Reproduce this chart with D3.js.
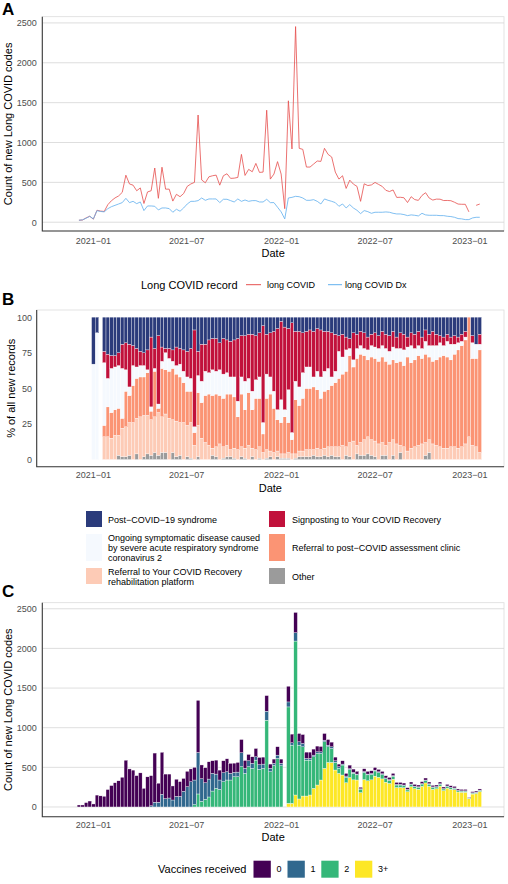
<!DOCTYPE html>
<html>
<head>
<meta charset="utf-8">
<script src="https://cdn.jsdelivr.net/npm/d3@7"></script>
<style>
  body { margin: 0; background: #fff; }
  svg { display: block; }
</style>
</head>
<body>
<svg id="fig" width="508" height="884"></svg>
<script>
'use strict';

// one value per week, starting with the week of firstWeek
var firstWeek = new Date(2020, 11, 5)

// panel A: weekly count of new codes (null = gap in the line)
var longCovid = [
  25, 28, 55, 75, 38, 150, 140, 135, 220, 270,
  305, 330, 375, 590, 480, 465, 395, 430, 235, 380,
  395, 680, 300, 690, 415, 415, 265, 350, 320, 360,
  450, 480, 500, 1345, 530, 495, 570, 583, 591, 465,
  583, 608, 550, 553, 562, 851, 587, 663, 633, 738,
  625, 629, 1405, 541, 604, 760, 604, 170, 1523, 919,
  2454, 927, 914, 692, 692, 730, 768, 763, 927, 851,
  818, 629, 541, 583, 424, 528, 478, 450, 262, 482,
  460, 468, 499, 474, 449, 400, 385, 405, 311, 313,
  307, 247, 320, 284, 274, 336, 370, 303, 278, 290,
  289, 272, 273, 270, 251, 228, 225, 225, 130, null,
  212, 228
]
var longCovidDx = [
  25, 30, 50, 75, 42, 145, 135, 130, 170, 195,
  212, 229, 246, 300, 246, 262, 233, 254, 146, 204,
  204, 200, 154, 179, 179, 171, 125, 163, 138, 179,
  229, 262, 262, 271, 304, 275, 292, 292, 292, 246,
  288, 288, 271, 254, 292, 262, 279, 262, 271, 271,
  254, 254, 288, 246, 246, 188, 130, 42, 304, 312,
  325, 320, 304, 275, 275, 283, 262, 229, 292, 275,
  262, 246, 200, 229, 179, 221, 179, 150, 108, 146,
  133, 112, 125, 125, 125, 129, 125, 112, 104, 104,
  96, 83, 92, 87, 79, 112, 92, 87, 87, 87,
  83, 83, 75, 71, 62, 46, 42, 33, 33, 54,
  62, 62
]

// panel B: % of new records per code (null = no bar that week)
var pctPostCovid = [
  null, null, null, null, 33, 11, null, 24, 26, 27,
  27, 25, 19, 18, 19, 20, 22, 24, 25, 23,
  14, 22, 13, 21, 22, 22, 23, 21, 22, 23,
  24, 22, 9, 24, 19, 19, 16, 15, 15, 18,
  15, 16, 17, 16, 15, 13, 13, 12, 12, 13,
  11, 6, 12, 11, 10, 8, 3, 7, 8, 4,
  10, 10, 11, 10, 9, 10, 8, 9, 10, 10,
  11, 12, 13, 12, 14, 15, 11, 12, 10, 11,
  14, 12, 11, 13, 10, 12, 13, 10, 14, 11,
  12, 14, 11, 12, 10, 14, 9, 12, 10, 12,
  13, 14, 12, 14, 13, 14, 12, 10, 0, 13,
  19, 12
]
var pctSignposting = [
  null, null, null, null, 0, 0, null, 8, 17, 9,
  8, 9, 17, 19, 30, 14, 13, 10, 9, 14,
  49, 14, 48, 10, 3, 7, 8, 13, 11, 15,
  18, 21, 68, 17, 26, 19, 23, 22, 23, 19,
  25, 23, 25, 26, 44, 29, 32, 31, 40, 31,
  31, 68, 28, 31, 42, 57, 55, 58, 43, 77,
  35, 39, 28, 25, 26, 32, 30, 33, 28, 26,
  31, 26, 11, 16, 9, 7, 19, 10, 10, 11,
  9, 8, 10, 9, 10, 10, 11, 11, 8, 11,
  11, 7, 9, 10, 10, 8, 8, 8, 10, 8,
  5, 6, 5, 5, 6, 4, 5, 4, 0, 5,
  0, 7
]
var pctOngoing = [
  null, null, null, null, 67, 89, null, 44, 20, 31,
  30, 30, 35, 15, 6, 14, 8, 8, 8, 2,
  3, 2, 3, 5, 12, 9, 5, 6, 9, 8,
  10, 9, 4, 12, 15, 17, 15, 18, 16, 18,
  17, 15, 12, 14, 11, 12, 20, 10, 13, 13,
  15, 8, 17, 12, 12, 7, 16, 5, 23, 5,
  13, 13, 18, 15, 15, 7, 13, 15, 14, 15,
  6, 8, 19, 12, 15, 5, 5, 7, 6, 5,
  7, 8, 8, 9, 8, 9, 9, 9, 10, 9,
  11, 7, 12, 8, 7, 7, 9, 8, 11, 10,
  10, 7, 11, 11, 7, 5, 3, 2, 0, 11,
  10, 4
]
var pctClinic = [
  null, null, null, null, 0, 0, null, 8, 21, 18,
  18, 19, 7, 25, 19, 26, 28, 28, 27, 30,
  6, 32, 3, 34, 31, 33, 36, 33, 32, 28,
  24, 22, 9, 23, 25, 33, 36, 37, 37, 34,
  34, 36, 39, 36, 23, 37, 27, 37, 27, 36,
  34, 13, 36, 40, 31, 22, 22, 26, 21, 10,
  38, 32, 37, 43, 43, 44, 41, 36, 40, 40,
  43, 45, 48, 50, 53, 61, 52, 61, 62, 59,
  54, 58, 58, 58, 60, 59, 55, 56, 57, 59,
  57, 66, 60, 61, 63, 60, 62, 58, 58, 60,
  63, 65, 64, 61, 65, 69, 71, 73, 84, 61,
  62, 72
]
var pctRehab = [
  null, null, null, null, 0, 0, null, 16, 16, 15,
  17, 14, 20, 21, 23, 26, 25, 30, 29, 27,
  25, 25, 30, 25, 27, 29, 23, 25, 23, 26,
  22, 25, 10, 22, 15, 12, 10, 5, 7, 11,
  8, 8, 5, 7, 7, 7, 7, 10, 6, 7,
  8, 5, 6, 4, 5, 4, 3, 3, 4, 4,
  3, 4, 4, 5, 5, 4, 6, 5, 5, 7,
  6, 7, 7, 10, 6, 10, 13, 6, 9, 11,
  12, 11, 11, 11, 9, 7, 12, 11, 11, 5,
  9, 6, 8, 9, 10, 11, 9, 9, 11, 10,
  9, 8, 8, 9, 9, 8, 9, 11, 16, 10,
  9, 5
]
var pctOther = [
  null, null, null, null, 0, 0, null, 0, 0, 0,
  0, 3, 2, 2, 3, 0, 4, 0, 2, 4,
  3, 5, 3, 5, 5, 0, 5, 2, 3, 0,
  2, 1, 0, 2, 0, 0, 0, 3, 2, 0,
  1, 2, 2, 1, 0, 2, 1, 0, 2, 0,
  1, 0, 1, 2, 0, 2, 1, 1, 1, 0,
  1, 2, 2, 2, 2, 3, 2, 2, 3, 2,
  3, 2, 2, 0, 3, 2, 0, 4, 3, 3,
  4, 3, 2, 0, 3, 3, 0, 3, 0, 5,
  0, 0, 0, 0, 0, 0, 3, 5, 0, 0,
  0, 0, 0, 0, 0, 0, 0, 0, 0, 0,
  0, 0
]

// panel C: weekly count by number of vaccines received
var vax0 = [
  25, 25, 55, 75, 38, 150, 140, 135, 220, 270,
  305, 330, 375, 590, 480, 465, 395, 430, 235, 380,
  380, 620, 240, 530, 310, 302, 177, 216, 186, 163,
  194, 161, 160, 658, 173, 189, 218, 159, 176, 125,
  151, 163, 126, 117, 122, 167, 100, 80, 83, 105,
  92, 88, 197, 54, 54, 106, 54, 0, 198, 109,
  256, 105, 113, 80, 80, 76, 72, 67, 84, 71,
  59, 46, 33, 42, 34, 45, 40, 35, 20, 35,
  35, 35, 35, 30, 30, 28, 28, 28, 25, 25,
  25, 22, 25, 22, 22, 24, 25, 22, 20, 20,
  22, 20, 20, 20, 20, 18, 18, 18, 8, 14,
  14, 15
]
var vax1 = [
  0, 0, 0, 0, 0, 0, 0, 0, 0, 0,
  0, 0, 0, 0, 0, 0, 0, 0, 0, 0,
  15, 60, 60, 160, 105, 113, 88, 134, 134, 197,
  256, 319, 310, 523, 286, 210, 226, 223, 180, 118,
  113, 105, 84, 54, 58, 176, 63, 75, 63, 42,
  59, 54, 113, 42, 26, 42, 30, 0, 63, 30,
  105, 42, 42, 21, 21, 21, 21, 21, 21, 21,
  21, 21, 21, 12, 17, 12, 12, 10, 8, 12,
  10, 10, 10, 10, 10, 8, 8, 8, 8, 8,
  6, 6, 6, 6, 6, 6, 7, 6, 6, 5,
  6, 5, 5, 5, 5, 4, 4, 4, 2, 4,
  4, 4
]
var vax2 = [
  0, 0, 0, 0, 0, 0, 0, 0, 0, 0,
  0, 0, 0, 0, 0, 0, 0, 0, 0, 0,
  0, 0, 0, 0, 0, 0, 0, 0, 0, 0,
  0, 0, 30, 164, 71, 96, 126, 201, 235, 222,
  319, 340, 340, 382, 382, 508, 424, 508, 487, 591,
  474, 487, 1095, 445, 524, 612, 520, 0, 1216, 734,
  1942, 679, 621, 453, 440, 398, 398, 335, 335, 197,
  176, 96, 63, 126, 67, 100, 84, 65, 40, 90,
  75, 70, 65, 60, 55, 45, 40, 38, 32, 30,
  28, 22, 28, 25, 25, 28, 30, 26, 24, 22,
  24, 20, 22, 20, 18, 16, 14, 14, 6, 12,
  12, 14
]
var vax3 = [
  0, 0, 0, 0, 0, 0, 0, 0, 0, 0,
  0, 0, 0, 0, 0, 0, 0, 0, 0, 0,
  0, 0, 0, 0, 0, 0, 0, 0, 0, 0,
  0, 0, 0, 0, 0, 0, 0, 0, 0, 0,
  0, 0, 0, 0, 0, 0, 0, 0, 0, 0,
  0, 0, 0, 0, 0, 0, 0, 0, 46, 46,
  151, 101, 138, 138, 151, 235, 277, 340, 487, 562,
  562, 466, 424, 403, 306, 371, 342, 340, 181, 345,
  330, 342, 389, 374, 354, 313, 297, 350, 245, 247,
  243, 193, 256, 232, 224, 261, 303, 261, 223, 230,
  263, 207, 238, 223, 217, 189, 186, 186, 106, 163,
  171, 194
]

var xTickDates = [new Date(2021, 0, 1), new Date(2021, 6, 1), new Date(2022, 0, 1), new Date(2022, 6, 1), new Date(2023, 0, 1)]
var countTicks = [0, 500, 1000, 1500, 2000, 2500]
var pctTicks = [0, 25, 50, 75, 100]

var recordKeys = ['other', 'rehab', 'clinic', 'ongoing', 'signposting', 'postCovid']  // bottom -> top
var recordColors = {
  postCovid: '#2b3b7b', signposting: '#c1113b', ongoing: '#f5f9fe',
  clinic: '#fb9474', rehab: '#fdcbb6', other: '#9b9b9b'
}
var recordLabels = {
  postCovid: ['Post\u2212COVID\u221219 syndrome'],
  signposting: ['Signposting to Your COVID Recovery'],
  ongoing: ['Ongoing symptomatic disease caused', 'by severe acute respiratory syndrome', 'coronavirus 2'],
  clinic: ['Referral to post\u2212COVID assessment clinic'],
  rehab: ['Referral to Your COVID Recovery', 'rehabilitation platform'],
  other: ['Other']
}
var vaxKeys = ['v3', 'v2', 'v1', 'v0']  // bottom -> top
var vaxLabels = { v0: '0', v1: '1', v2: '2', v3: '3+' }
var vaxColors = { v0: '#440154', v1: '#31688e', v2: '#35b779', v3: '#fde725' }

var font = '"Liberation Sans", Arial, Helvetica, sans-serif'
,   svg = d3.select('#fig').attr('font-family', font)

var weeks = longCovid.map((v, i) => d3.timeDay.offset(firstWeek, 7 * i))

var x = d3.scaleTime()
  .domain([new Date(2020, 8, 25), new Date(2023, 2, 9)])
  .range([42.3, 504])
,   barStep = x(weeks[1]) - x(weeks[0])

var boxA = { left: 42.3, right: 504, top: 16.7, bottom: 231 }
,   boxB = { left: 36.7, right: 504, top: 310, bottom: 466.7 }
,   boxC = { left: 42.3, right: 504, top: 602.7, bottom: 816.7 }

var yA = d3.scaleLinear().domain([-110, 2578]).range([boxA.bottom, boxA.top])
,   yB = d3.scaleLinear().domain([-0.05, 1.05]).range([boxB.bottom, boxB.top])
,   yC = d3.scaleLinear().domain([-122.7, 2576.7]).range([boxC.bottom, boxC.top])

var fmtMonth = (d) => d3.timeFormat('%Y-%m')(d).replace('-', '\u2212')

function panelBorder(box) {
  svg.append('rect')
    .attr('x', box.left).attr('y', box.top)
    .attr('width', box.right - box.left).attr('height', box.bottom - box.top)
    .attr('fill', 'none').attr('stroke', '#dcdcdc').attr('stroke-width', 0.8)
}

function gridlines(box, y, ticks) {
  svg.append('g').selectAll('line').data(ticks).enter().append('line')
    .attr('x1', box.left).attr('x2', box.right)
    .attr('y1', (d) => y(d)).attr('y2', (d) => y(d))
    .attr('stroke', '#d6d6d6').attr('stroke-width', 0.8)
}

function axisLines(box) {
  svg.append('path')
    .attr('d', 'M' + box.left + ',' + box.top + 'V' + box.bottom + 'H' + box.right)
    .attr('fill', 'none').attr('stroke', '#3a3a3a').attr('stroke-width', 1.1)
}

function styleAxis(ax) {
  ax.select('.domain').remove()
  ax.attr('font-family', font).attr('font-size', 9)
  ax.selectAll('text').attr('fill', '#4d4d4d')
}

function xAxis(box, pad) {
  var ax = svg.append('g')
    .attr('transform', 'translate(0,' + box.bottom + ')')
    .call(d3.axisBottom(x).tickValues(xTickDates).tickFormat(fmtMonth).tickSize(0).tickPadding(pad))
  styleAxis(ax)
}

function yAxis(box, y, ticks, fmt, pad) {
  var ax = svg.append('g')
    .attr('transform', 'translate(' + box.left + ',0)')
    .call(d3.axisLeft(y).tickValues(ticks).tickFormat(fmt).tickSize(0).tickPadding(pad))
  styleAxis(ax)
}

function titles(box, xTitleY, yTitle, yTitleX) {
  svg.append('text')
    .attr('x', (box.left + box.right) / 2).attr('y', xTitleY)
    .attr('text-anchor', 'middle').attr('font-size', 11).attr('fill', '#000')
    .text('Date')
  svg.append('text')
    .attr('transform', 'translate(' + yTitleX + ',' + (box.top + box.bottom) / 2 + ') rotate(-90)')
    .attr('text-anchor', 'middle').attr('dy', '0.36em').attr('font-size', 11).attr('fill', '#000')
    .text(yTitle)
}

function panelTag(label, y) {
  svg.append('text')
    .attr('x', 2).attr('y', y)
    .attr('font-size', 17).attr('font-weight', 'bold').attr('fill', '#000')
    .text(label)
}

function stackBars(layers, y, colors) {
  layers.forEach((layer) => {
    svg.append('g').selectAll('rect')
      .data(layer.filter((d) => d[1] - d[0] > 0))
      .enter().append('rect')
      .attr('x', (d) => x(d.data.date) - barStep / 2)
      .attr('width', barStep)
      .attr('y', (d) => y(d[1]))
      .attr('height', (d) => y(d[0]) - y(d[1]))
      .attr('fill', colors[layer.key])
      .attr('stroke', '#fff')
      .attr('stroke-width', 0.35)
  })
}

// ---------- panel A ----------
panelBorder(boxA)
gridlines(boxA, yA, countTicks)

var lineA = (values) => d3.line()
  .defined((d) => d != null)
  .x((d, i) => x(weeks[i]))
  .y((d) => yA(d))(values)

svg.append('path').attr('d', lineA(longCovid))
  .attr('fill', 'none').attr('stroke', '#e6514f').attr('stroke-width', 0.9).attr('opacity', 0.9)
svg.append('path').attr('d', lineA(longCovidDx))
  .attr('fill', 'none').attr('stroke', '#62b0ee').attr('stroke-width', 0.9).attr('opacity', 0.9)

axisLines(boxA)
xAxis(boxA, 6.5)
yAxis(boxA, yA, countTicks, d3.format('d'), 5.6)
titles(boxA, 256.7, 'Count of new Long COVID codes', 8)
panelTag('A', 15)

var legA = svg.append('g').attr('font-size', 9).attr('fill', '#000')
legA.append('text').attr('x', 141).attr('y', 284.7).attr('dy', '0.35em').attr('font-size', 11).text('Long COVID record')
legA.append('line').attr('x1', 246).attr('x2', 261).attr('y1', 284.7).attr('y2', 284.7).attr('stroke', '#e6514f').attr('stroke-width', 1)
legA.append('text').attr('x', 267).attr('y', 284.7).attr('dy', '0.35em').text('long COVID')
legA.append('line').attr('x1', 328).attr('x2', 342).attr('y1', 284.7).attr('y2', 284.7).attr('stroke', '#62b0ee').attr('stroke-width', 1)
legA.append('text').attr('x', 345).attr('y', 284.7).attr('dy', '0.35em').text('long COVID Dx')

// ---------- panel B ----------
panelBorder(boxB)

var recordRows = weeks.map((date, i) => ({
  date: date,
  postCovid: pctPostCovid[i], signposting: pctSignposting[i], ongoing: pctOngoing[i],
  clinic: pctClinic[i], rehab: pctRehab[i], other: pctOther[i]
})).filter((d) => d.postCovid != null)

var recordStack = d3.stack().keys(recordKeys).offset(d3.stackOffsetExpand)(recordRows)
stackBars(recordStack, yB, recordColors)

axisLines(boxB)
xAxis(boxB, 4.6)
yAxis(boxB, yB, pctTicks.map((d) => d / 100), (d) => Math.round(d * 100), 4.7)
titles(boxB, 492.3, '% of all new records', 11)
panelTag('B', 305)

var legendB = [
  { key: 'postCovid', col: 0, row: 0 }, { key: 'signposting', col: 1, row: 0 },
  { key: 'ongoing', col: 0, row: 1 }, { key: 'clinic', col: 1, row: 1 },
  { key: 'rehab', col: 0, row: 2 }, { key: 'other', col: 1, row: 2 }
]
var rowTop = [511, 534, 568]
,   rowHeight = [16, 27, 16]
,   colKeyX = [86, 269]
,   colLabelX = [108, 292]

var legB = svg.append('g').attr('font-size', 9).attr('fill', '#000')
legendB.forEach((item) => {
  var top = rowTop[item.row]
  ,   h = rowHeight[item.row]
  ,   lines = recordLabels[item.key]
  ,   mid = top + h / 2
  legB.append('rect')
    .attr('x', colKeyX[item.col]).attr('y', top)
    .attr('width', 16).attr('height', h)
    .attr('fill', recordColors[item.key])
  lines.forEach((txt, k) => {
    legB.append('text')
      .attr('x', colLabelX[item.col])
      .attr('y', mid + 0.6 + (k - (lines.length - 1) / 2) * 10)
      .attr('dy', '0.35em')
      .text(txt)
  })
})

// ---------- panel C ----------
panelBorder(boxC)
gridlines(boxC, yC, countTicks)

var vaxRows = weeks.map((date, i) => ({ date: date, v0: vax0[i], v1: vax1[i], v2: vax2[i], v3: vax3[i] }))
var vaxStack = d3.stack().keys(vaxKeys)(vaxRows)
stackBars(vaxStack, yC, vaxColors)

axisLines(boxC)
xAxis(boxC, 5.4)
yAxis(boxC, yC, countTicks, d3.format('d'), 5.6)
titles(boxC, 841.3, 'Count of new Long COVID codes', 8)
panelTag('C', 596.5)

var legC = svg.append('g').attr('font-size', 9).attr('fill', '#000')
legC.append('text').attr('x', 158).attr('y', 869.3).attr('dy', '0.35em').attr('font-size', 11).text('Vaccines received')
var vaxKeyX = { v0: 253.5, v1: 287.5, v2: 321.3, v3: 355 }
;['v0', 'v1', 'v2', 'v3'].forEach((k) => {
  legC.append('rect').attr('x', vaxKeyX[k]).attr('y', 860.7).attr('width', 17.3).attr('height', 17)
    .attr('fill', vaxColors[k])
  legC.append('text').attr('x', vaxKeyX[k] + 23).attr('y', 869.3).attr('dy', '0.35em').text(vaxLabels[k])
})
</script>
</body>
</html>
